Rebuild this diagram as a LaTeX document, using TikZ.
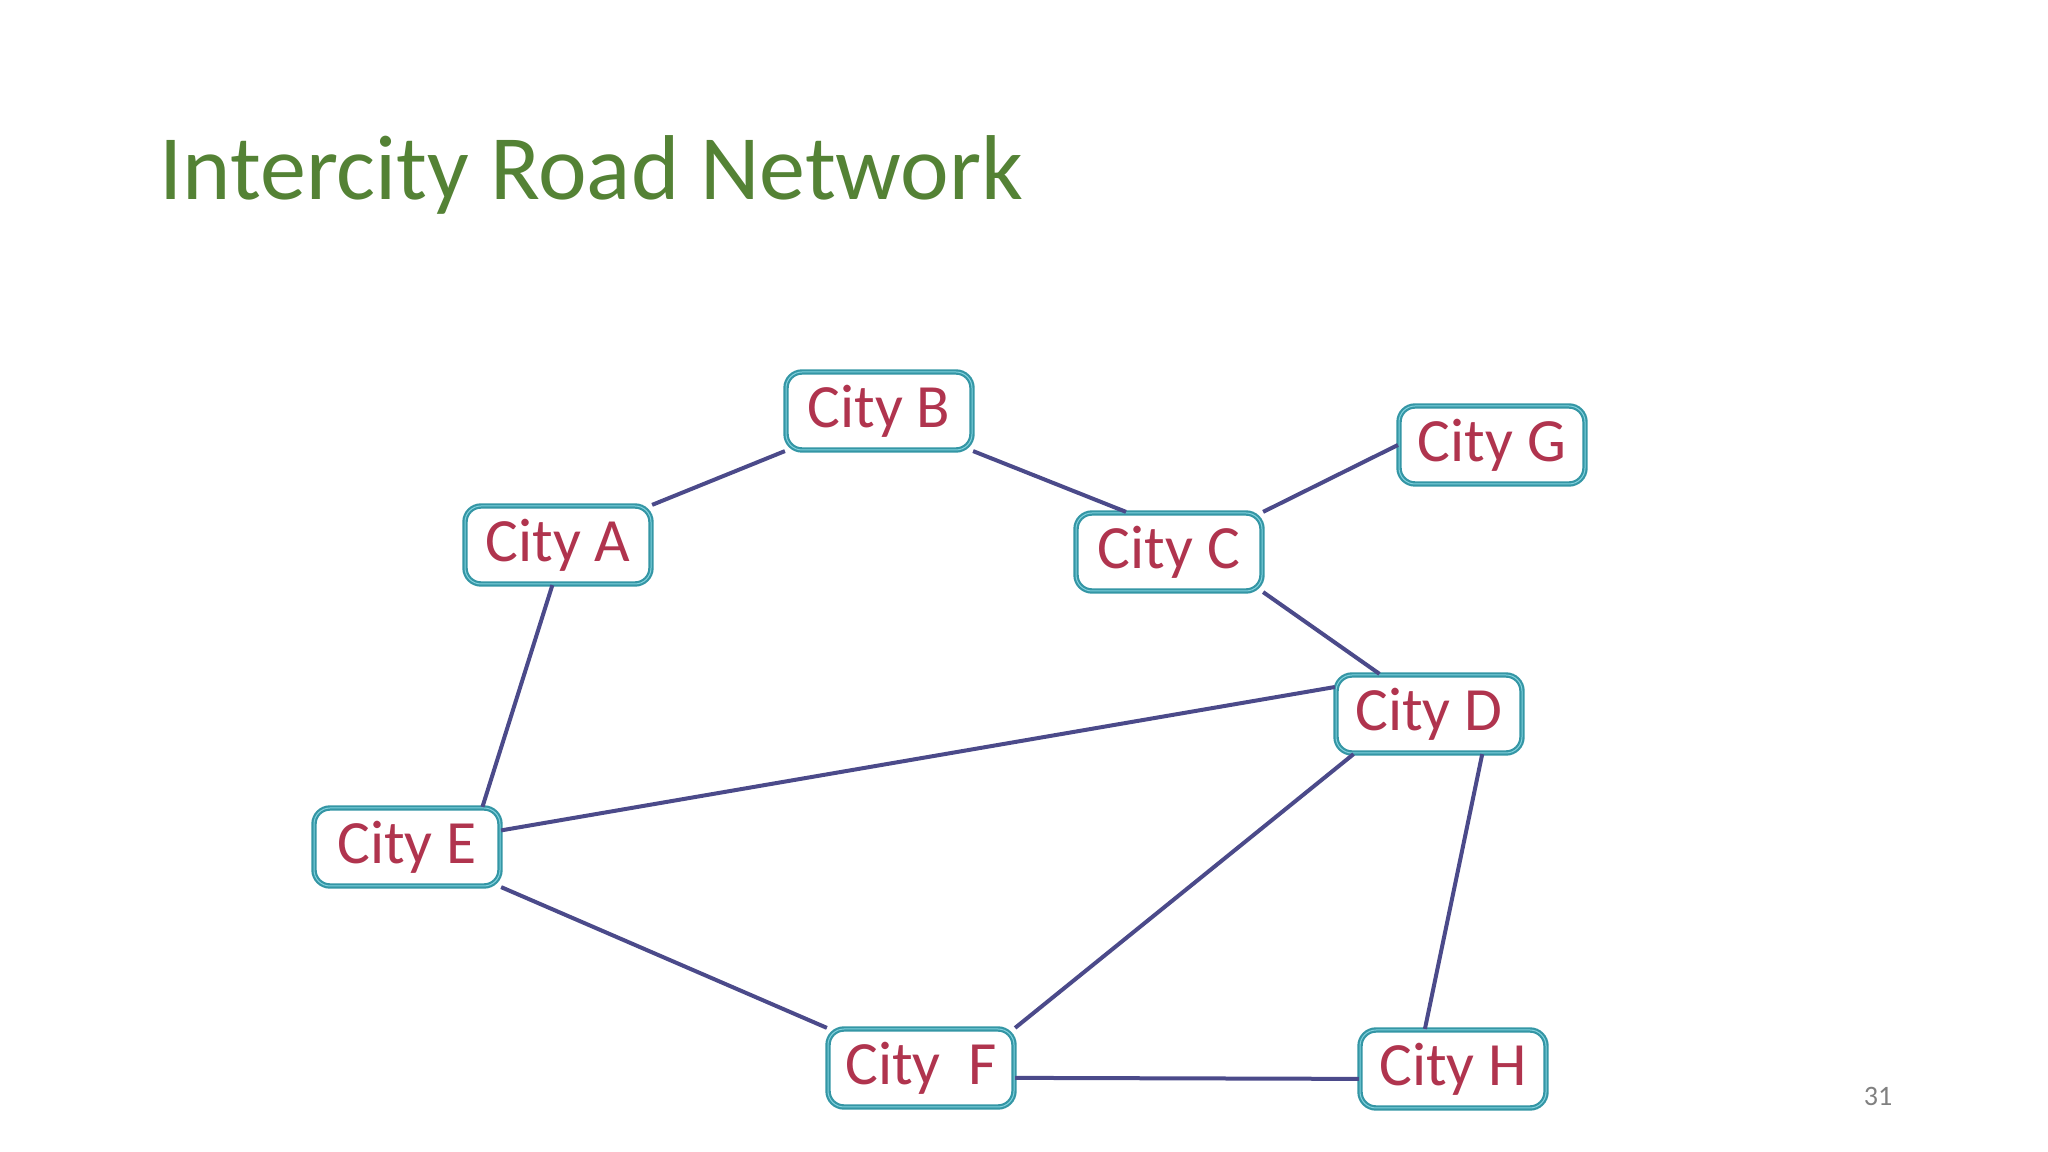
\documentclass[tikz,border=0pt]{standalone}
\usepackage{fontspec}
\setmainfont{Carlito}
\usetikzlibrary{positioning}
\definecolor{titlegreen}{RGB}{84,130,53}
\definecolor{cityred}{RGB}{176,52,78}
\definecolor{boxteal}{RGB}{52,150,165}
\definecolor{boxglow}{RGB}{130,210,222}
\definecolor{roadblue}{RGB}{75,74,138}
\begin{document}
\begin{tikzpicture}[
    x=0.1mm, y=-0.1mm,
    city/.style={draw=boxteal, double=boxglow, double distance=0.1mm, line width=0.22mm,
        rounded corners=1.6mm, fill=white, text=cityred, font=\fontsize{17.5}{20}\selectfont,
        minimum width=18.6mm, minimum height=7.8mm, inner sep=0pt},
    road/.style={draw=roadblue, line width=0.4mm}
]
\useasboundingbox (0,0) rectangle (2048,1152);
\node[anchor=base west, text=titlegreen, font=\fontsize{26.2}{28}\selectfont, inner sep=0pt] (title) at (159,200) {Intercity Road Network};
\node[anchor=base, text=gray, font=\fontsize{8}{9}\selectfont, inner sep=0pt] (page) at (1878,1105) {31};

\node[city] (b) at (879,411) {City B};
\node[city] (a) at (558,545) {City A};
\node[city] (c) at (1169,552) {City C};
\node[city] (g) at (1492,445) {City G};
\node[city] (d) at (1429,714) {City D};
\node[city] (e) at (407,847) {City E};
\node[city] (f) at (921,1068) {City\ \ F};
\node[city] (h) at (1453,1069) {City H};

\draw[road] (a.north east) -- (b.south west);
\draw[road] (b.south east) -- (c.137);
\draw[road] (c.north east) -- (g.west);
\draw[road] (c.south east) -- (d.141);
\draw[road] (a.262) -- (e.28);
\draw[road] (e.10) -- (d.164);
\draw[road] (e.south east) -- (f.north west);
\draw[road] (f.north east) -- (d.208);
\draw[road] (f.-6) -- (h.186);
\draw[road] (d.-37) -- (h.125);
\end{tikzpicture}
\end{document}
